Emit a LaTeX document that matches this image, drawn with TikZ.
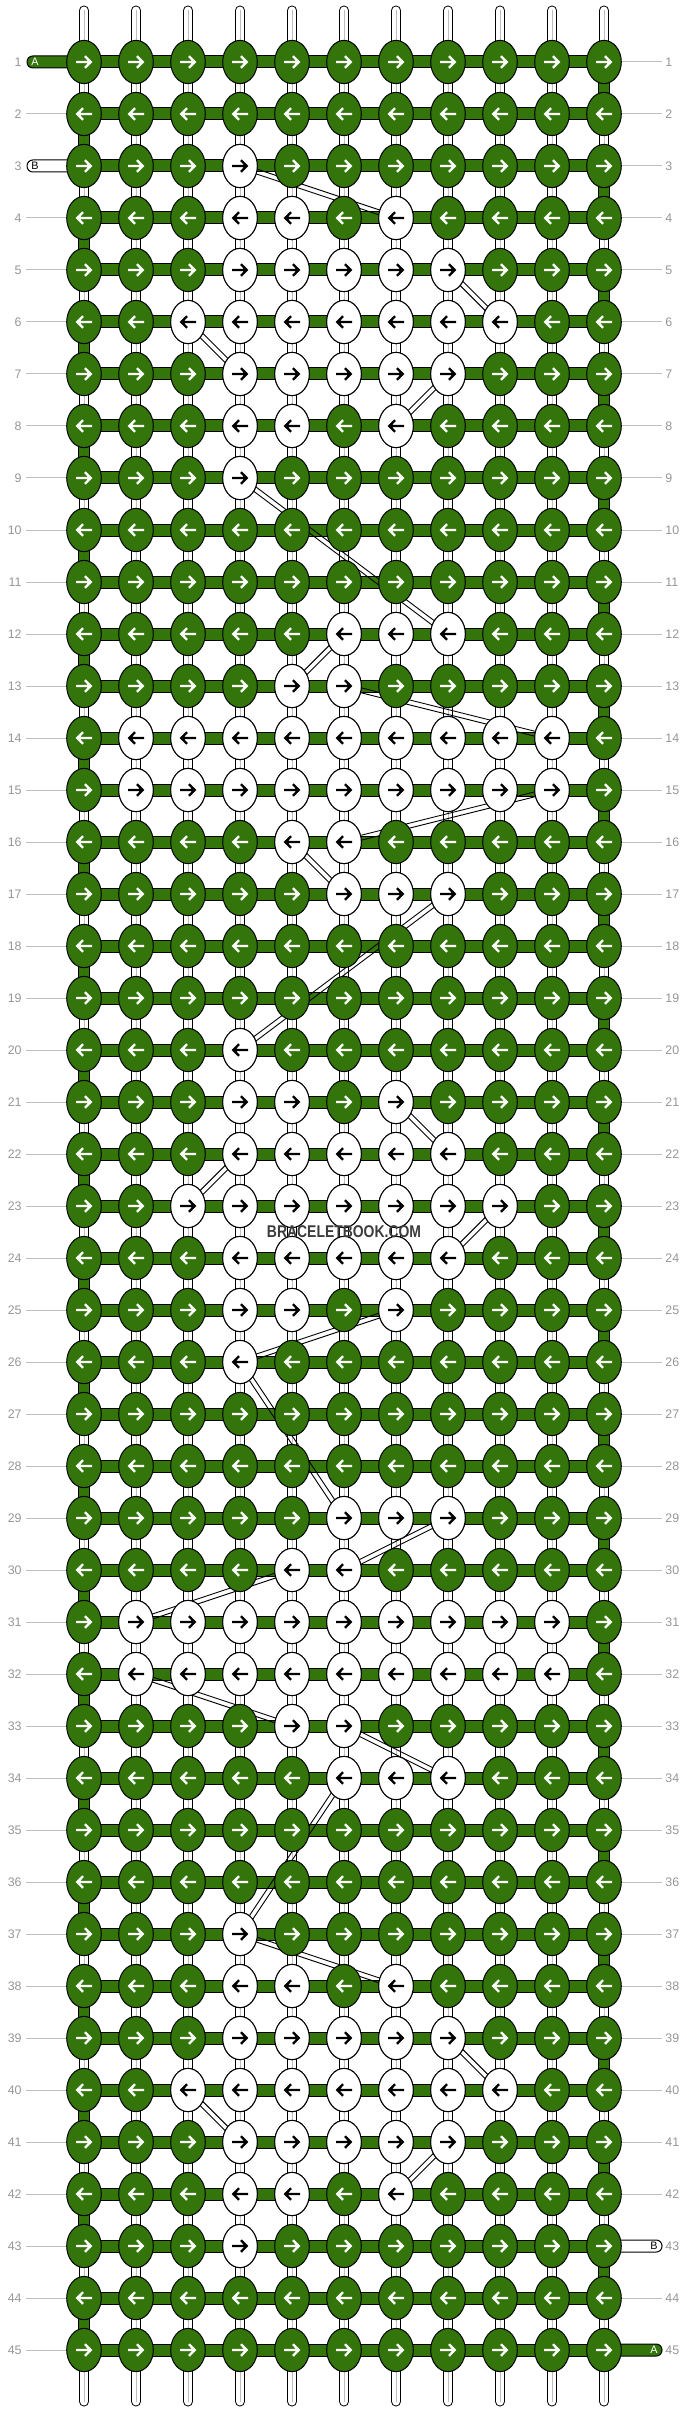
\documentclass[tikz,border=0pt]{standalone}
\usepackage{fontspec}
\setmainfont{Liberation Sans}
\usetikzlibrary{shapes.geometric,calc}

\definecolor{knotgreen}{RGB}{51,117,10}
\definecolor{rowgray}{RGB}{150,150,150}
\definecolor{linegray}{RGB}{190,190,190}
\definecolor{markgray}{RGB}{60,60,60}

\tikzset{
  knot/.style={ellipse, draw=black, line width=0.5pt, minimum width=17.3pt, minimum height=21.6pt, inner sep=0pt},
  gknot/.style={knot, fill=knotgreen},
  wknot/.style={knot, fill=white},
  arrowright/.pic={\draw[line width=1.2pt, line join=miter] (-8,0) -- (6,0) (1,-5.8) -- (6.6,0) -- (1,5.8);},
  arrowleft/.pic={\draw[line width=1.2pt, line join=miter] (8,0) -- (-6,0) (-1,-5.8) -- (-6.6,0) -- (-1,5.8);},
  bar/.style={draw=black, line width=0.5pt, fill=knotgreen},
  stub/.style={draw=black, line width=0.5pt, rounded corners=2.9pt},
  rowlabel/.style={text=rowgray, font=\fontsize{6.2}{7}\selectfont, inner sep=0pt},
  stublabel/.style={font=\fontsize{5.4}{6}\selectfont, inner sep=0pt},
  tube/.style={black, line width=0.45pt},
}

\begin{document}
\begin{tikzpicture}[x=0.5pt, y=-0.5pt]
\useasboundingbox (0,0) rectangle (688,2412);

% knot places
\foreach \r in {1,...,45}
  \foreach \c in {1,...,11}
    \coordinate (p\r-\c) at ({84+52*(\c-1)},{62+52*(\r-1)});

% vertical strings
\foreach \c in {1,...,11}{
  \coordinate (top\c) at ({84+52*(\c-1)},10.5);
  \coordinate (bot\c) at ({84+52*(\c-1)},2401.5);
  \draw[line width=5pt, line cap=round] (top\c) -- (bot\c);
  \draw[white, line width=4pt, line cap=round] (top\c) -- (bot\c);
  \draw[linegray, line width=0.4pt] (top\c) -- (bot\c);
}

% row numbers, label lines, rows
\foreach \r in {1,...,45}{
  \pgfmathsetmacro\y{62+52*(\r-1)}
  \node[rowlabel, anchor=east] (ll\r) at (22,\y) {\r};
  \node[rowlabel, anchor=west] (rl\r) at (665,\y) {\r};
  \ifnum\r=1 \else\ifnum\r=3 \else
    \draw[linegray, line width=0.5pt] (26,\y) -- (p\r-1);
  \fi\fi
  \ifnum\r<43 \draw[linegray, line width=0.5pt] (p\r-11) -- (662,\y); \fi
  \ifnum\r=44 \draw[linegray, line width=0.5pt] (p\r-11) -- (662,\y); \fi
  \draw[bar] (84,\y-6) rectangle (604,\y+6);
}

% turns of A at the edges
\foreach \r in {1,...,44}{
  \pgfmathsetmacro\y{62+52*(\r-1)}
  \ifodd\r\relax \def\tx{604}\else \def\tx{84}\fi
  \draw[bar] (\tx-5.5,\y) rectangle (\tx+5.5,\y+52);
}

% loose ends
\draw[stub, fill=knotgreen] (27,56) rectangle (84,68);
\node[stublabel, text=white] (endA) at (35,62) {A};
\draw[stub, fill=white] (27,160) rectangle (84,172);
\node[stublabel] (startB) at (35,166) {B};
\draw[stub, fill=white] (604,2240) rectangle (662,2252);
\node[stublabel] (endB) at (654,2246) {B};
\draw[stub, fill=knotgreen] (604,2344) rectangle (662,2356);
\node[stublabel, text=white] (startA) at (654,2350) {A};

% path of B between white knots
\foreach \from/\to in {p3-4/p4-7, p5-8/p6-9, p6-3/p7-4, p7-8/p8-7, p9-4/p12-8, p12-6/p13-5, p13-6/p14-10,
  p15-10/p16-6, p16-5/p17-6, p17-8/p20-4, p21-7/p22-8, p22-4/p23-3, p23-9/p24-8, p25-7/p26-4,
  p26-4/p29-6, p29-8/p30-6, p30-5/p31-2, p32-2/p33-5, p33-6/p34-8, p34-6/p37-4, p37-4/p38-7,
  p39-8/p40-9, p40-3/p41-4, p41-8/p42-7}{
  \draw[tube] ($(\from)!1.2pt!90:(\to)$) -- ($(\to)!1.2pt!-90:(\from)$);
  \draw[tube] ($(\from)!1.2pt!-90:(\to)$) -- ($(\to)!1.2pt!90:(\from)$);
}

% knots
\foreach \r in {1,...,45}{
  \ifodd\r\relax \def\dir{arrowright}\else \def\dir{arrowleft}\fi
  \foreach \c in {1,...,11}{
    \node[gknot] (k\r-\c) at (p\r-\c) {};
    \pic[white] at (k\r-\c) {\dir};
  }
}

% white knots
\foreach \r/\cols in {3/{4}, 4/{4,5,7}, 5/{4,5,6,7,8}, 6/{3,4,5,6,7,8,9}, 7/{4,5,6,7,8}, 8/{4,5,7}, 9/{4},
  12/{6,7,8}, 13/{5,6}, 14/{2,3,4,5,6,7,8,9,10}, 15/{2,3,4,5,6,7,8,9,10}, 16/{5,6}, 17/{6,7,8},
  20/{4}, 21/{4,5,7}, 22/{4,5,6,7,8}, 23/{3,4,5,6,7,8,9}, 24/{4,5,6,7,8}, 25/{4,5,7}, 26/{4},
  29/{6,7,8}, 30/{5,6}, 31/{2,3,4,5,6,7,8,9,10}, 32/{2,3,4,5,6,7,8,9,10}, 33/{5,6}, 34/{6,7,8},
  37/{4}, 38/{4,5,7}, 39/{4,5,6,7,8}, 40/{3,4,5,6,7,8,9}, 41/{4,5,6,7,8}, 42/{4,5,7}, 43/{4}}{
  \ifodd\r\relax \def\dir{arrowright}\else \def\dir{arrowleft}\fi
  \foreach \c in \cols{
    \node[wknot] (k\r-\c) at (p\r-\c) {};
    \pic[black] at (k\r-\c) {\dir};
  }
}

\node[text=markgray, font=\bfseries\fontsize{8.5}{9}\selectfont, inner sep=0pt] (mark) at (344,1232)
  {\scalebox{0.82}[1]{BRACELETBOOK.COM}};
\end{tikzpicture}
\end{document}
